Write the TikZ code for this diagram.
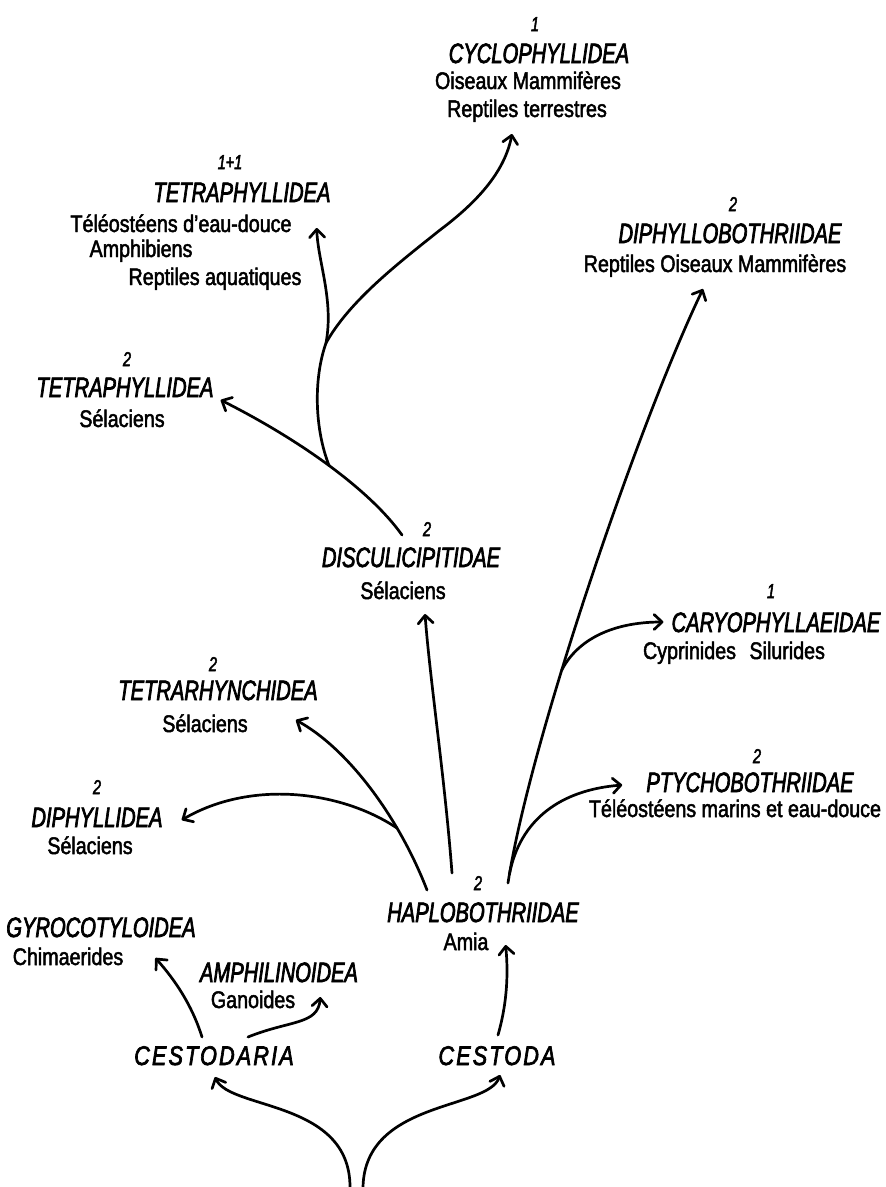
\documentclass[tikz,border=0pt]{standalone}
\usepackage{fontspec}
\usepackage{tikz}
\usetikzlibrary{arrows.meta,calc}

\newfontfamily\taxfamily[FakeStretch=0.72,FakeBold=2.5]{Liberation Sans}
\newfontfamily\hostfamily[FakeStretch=0.82,FakeBold=2]{Liberation Sans}
\newfontfamily\grpfamily[FakeStretch=0.8,FakeBold=2.5,LetterSpace=8]{Liberation Sans}

\tikzset{
  taxon/.style={font=\taxfamily\itshape\fontsize{28}{30}\selectfont, inner sep=0pt, text height=20pt, text depth=0pt, anchor=base},
  host/.style={font=\hostfamily\fontsize{24}{26}\selectfont, inner sep=0pt, text height=17pt, text depth=5pt, anchor=base},
  rank/.style={font=\taxfamily\itshape\fontsize{20}{22}\selectfont, inner sep=0pt, anchor=base},
  group/.style={font=\grpfamily\itshape\fontsize{27}{30}\selectfont, inner sep=0pt, text height=20pt, text depth=0pt, anchor=base},
  branch/.style={line width=2.7pt, line cap=round, -{Straight Barb[length=8pt,width=15pt,round]}}
}

\begin{document}
\begin{tikzpicture}[x=1pt,y=-1pt]
\useasboundingbox (0,0) rectangle (886,1187);

\node[rank]  (cycloN) at (535,31) {1};
\node[taxon] (cyclo)  at (539,63) {CYCLOPHYLLIDEA};
\node[host]  (cycloA) at (528,89) {Oiseaux Mammifères};
\node[host]  (cycloB) at (527,117) {Reptiles terrestres};

\node[rank]  (tetraAN) at (230,169) {1+1};
\node[taxon] (tetraA)  at (242,202) {TETRAPHYLLIDEA};
\node[host]  (tetraAa) at (181,232) {Téléostéens d’eau-douce};
\node[host]  (tetraAb) at (141,257) {Amphibiens};
\node[host]  (tetraAc) at (215,285) {Reptiles aquatiques};

\node[rank]  (tetraBN) at (127,366) {2};
\node[taxon] (tetraB)  at (125,397) {TETRAPHYLLIDEA};
\node[host]  (tetraBa) at (122,427) {Sélaciens};

\node[rank]  (diphbN) at (733,211) {2};
\node[taxon] (diphb)  at (730,243) {DIPHYLLOBOTHRIIDAE};
\node[host]  (diphba) at (715,272) {Reptiles Oiseaux Mammifères};

\node[rank]  (discuN) at (427,536) {2};
\node[taxon] (discu)  at (411,567) {DISCULICIPITIDAE};
\node[host]  (discua) at (403,599) {Sélaciens};

\node[rank]  (caryoN) at (771,598) {1};
\node[taxon] (caryo)  at (776,632) {CARYOPHYLLAEIDAE};
\node[host]  (caryoa) at (734,659) {Cyprinides\hspace{8pt} Silurides};

\node[rank]  (ptychoN) at (757,763) {2};
\node[taxon] (ptycho)  at (750,792) {PTYCHOBOTHRIIDAE};
\node[host]  (ptychoa) at (735,817) {Téléostéens marins et eau-douce};

\node[rank]  (trhN) at (213,671) {2};
\node[taxon] (trh)  at (218,700) {TETRARHYNCHIDEA};
\node[host]  (trha) at (205,732) {Sélaciens};

\node[rank]  (diphyN) at (97,794) {2};
\node[taxon] (diphy)  at (97,827) {DIPHYLLIDEA};
\node[host]  (diphya) at (90,854) {Sélaciens};

\node[rank]  (haploN) at (478,890) {2};
\node[taxon] (haplo)  at (483,922) {HAPLOBOTHRIIDAE};
\node[host]  (haploa) at (466,950) {Amia};

\node[taxon] (gyro)  at (101,937) {GYROCOTYLOIDEA};
\node[host]  (gyroa) at (68,965) {Chimaerides};

\node[taxon] (amphi)  at (279,982) {AMPHILINOIDEA};
\node[host]  (amphia) at (253,1008) {Ganoides};

\node[group] (cestodaria) at (214,1065) {CESTODARIA};
\node[group] (cestoda)    at (497,1065) {CESTODA};

\coordinate (rootL) at (350,1187);
\coordinate (rootR) at (363,1187);

\draw[branch] (rootL) .. controls (350,1100) and (230,1110) .. ($(cestodaria.base)+(1,12)$);
\draw[branch] (rootR) .. controls (365,1100) and (488,1110) .. ($(cestoda.base)+(3,10)$);

\draw[branch] ($(cestodaria.base)+(-12,-28)$) .. controls (192,1005) and (175,980) .. ($(gyroa.base east)+(32,-7)$);
\draw[branch] ($(cestodaria.base)+(34,-28)$) .. controls (290,1020) and (318,1025) .. ($(amphia.base east)+(25,-11)$);
\draw[branch] ($(cestoda.base)+(1,-30)$) .. controls (508,1000) and (508,970) .. ($(haploa.base east)+(17,-5)$);

\draw[branch] ($(haplo.base)+(-31,-49)$) .. controls (445,780) and (430,680) .. ($(discua.base)+(22,15)$);
\draw[branch] ($(haplo.base)+(-56,-32)$) .. controls (400,820) and (350,750) .. ($(trh.base east)+(-22,20)$) coordinate[pos=.3] (jDiphy);
\draw[branch] (jDiphy) .. controls (340,790) and (250,780) .. ($(diphy.base east)+(19,-7)$);

\draw[branch] ($(haplo.base)+(25,-39)$) .. controls (530,740) and (640,420) .. ($(diphba.base)+(-12,17)$) coordinate[pos=.02] (jPtycho) coordinate[pos=.37] (jCaryo);
\draw[branch] (jCaryo) .. controls (580,635) and (620,622) .. ($(caryo.base west)+(-8,-10)$);
\draw[branch] (jPtycho) .. controls (520,820) and (560,790) .. ($(ptycho.base west)+(-24,-7)$);

\draw[branch] ($(discu.base)+(-9,-32)$) .. controls (370,490) and (300,440) .. ($(tetraB.base east)+(7,3)$) coordinate[pos=.5] (jTetra);
\draw[branch] (jTetra) .. controls (315,430) and (313,380) .. (326,343) coordinate (jCyclo) .. controls (334,300) and (318,262) .. ($(tetraAa.base east)+(25,-4)$);
\draw[branch] (jCyclo) .. controls (350,300) and (400,262) .. (440,230) .. controls (480,200) and (505,170) .. ($(cycloB.base)+(-15,17)$);
\end{tikzpicture}
\end{document}
